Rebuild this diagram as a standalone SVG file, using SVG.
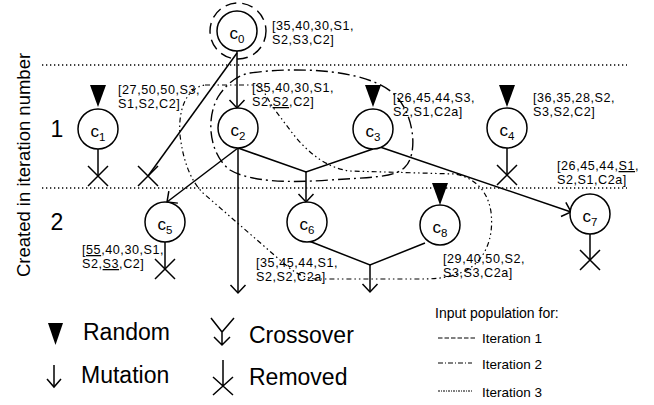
<svg xmlns="http://www.w3.org/2000/svg" xmlns:xlink="http://www.w3.org/1999/xlink" width="654" height="405" viewBox="0 0 654 405">
<style>
text{font-family:"Liberation Sans",Arial,sans-serif;fill:#000}
.lbl{font-size:12.6px;letter-spacing:0.55px}
.nl{font-size:17px;text-anchor:middle}
.sub{font-size:11.5px}
.big{font-size:23px}
.node{fill:#fff;stroke:#000;stroke-width:1.5}
.ln{fill:none;stroke:#000;stroke-width:1.5}
.arr{marker-end:url(#ah)}
.grid{fill:none;stroke:#000;stroke-width:1.3;stroke-dasharray:1.3,2.7}
.it1{fill:none;stroke:#000;stroke-width:1.4;stroke-dasharray:11,6}
.it2{fill:none;stroke:#000;stroke-width:1.4;stroke-dasharray:12,4,2,4}
.it3{fill:none;stroke:#000;stroke-width:1.2;stroke-dasharray:5,3,1.5,3,1.5,3}
.l1{fill:none;stroke:#000;stroke-width:1;stroke-dasharray:4.5,2}
.l2{fill:none;stroke:#000;stroke-width:1;stroke-dasharray:5,2,1,2}
.l3{fill:none;stroke:#000;stroke-width:1;stroke-dasharray:2,1,1,1}
</style>
<defs>
<marker id="ah" markerUnits="userSpaceOnUse" markerWidth="20" markerHeight="20" viewBox="-10 -10 20 20" refX="0" refY="0" orient="auto">
<path d="M-8,-7.5 L0,0 L-8,7.5" fill="none" stroke="#000" stroke-width="1.5"/>
</marker>
<path id="tri" d="M-8,0 L8,0 L0,22 Z" fill="#000"/>
<path id="x" d="M-10,-10 L10,10 M10,-10 L-10,10" fill="none" stroke="#000" stroke-width="1.5"/>
</defs>

<g id="grid">
<line class="grid" x1="42" y1="65" x2="627" y2="65"/>
<line class="grid" x1="42" y1="188" x2="627" y2="188"/>
<text transform="translate(30,165) rotate(-90)" style="font-size:18.5px" text-anchor="middle">Created in iteration number</text>
<text class="big" x="57" y="137" text-anchor="middle">1</text>
<text class="big" x="57" y="230" text-anchor="middle">2</text>
</g>

<g id="populations">
<circle class="it1" cx="238" cy="31" r="28"/>
<path class="it2" d="M250,73 C300,66 370,70 395,95 C415,115 418,155 405,167 C395,178 370,177 330,180 C290,183 250,182 230,170 C210,155 205,120 218,97 C226,84 238,75 250,73 Z"/>
<path class="it3" d="M205,85 L255,85 C263,87 266,96 272,106 L290,130 C305,150 325,168 350,171 L455,174 C476,178 488,192 491,212 C494,237 486,260 465,271 C450,278 435,279 420,279 L315,279 C302,277 296,273 288,267 L203,193 C190,180 183,160 180,135 C178,110 186,88 205,85 Z"/>
</g>

<g id="connectors">
<line class="ln arr" x1="237" y1="51" x2="237" y2="108"/>
<line class="ln" x1="237" y1="53" x2="148" y2="176"/>
<use xlink:href="#x" x="148" y="176"/>
<line class="ln" x1="98" y1="149" x2="98" y2="176"/>
<use xlink:href="#x" x="98" y="176"/>
<line class="ln" x1="507" y1="148" x2="507" y2="175"/>
<use xlink:href="#x" x="507" y="175"/>
<line class="ln arr" x1="238" y1="148" x2="167" y2="202"/>
<line class="ln arr" x1="238" y1="148" x2="238" y2="293"/>
<polyline class="ln" points="238,148 306,172 373,149"/>
<line class="ln arr" x1="306" y1="172" x2="306" y2="202"/>
<line class="ln arr" x1="380" y1="147" x2="571" y2="212"/>
<line class="ln" x1="165" y1="242" x2="165" y2="269"/>
<use xlink:href="#x" x="165" y="269"/>
<polyline class="ln" points="309,241 370,265 425,243"/>
<line class="ln arr" x1="370" y1="265" x2="370" y2="292"/>
<line class="ln" x1="590" y1="234" x2="590" y2="260"/>
<use xlink:href="#x" x="590" y="260"/>
<use xlink:href="#tri" x="98" y="85"/>
<use xlink:href="#tri" x="373" y="85"/>
<use xlink:href="#tri" x="507" y="85"/>
<use xlink:href="#tri" x="440" y="183"/>
</g>

<g id="c0">
<circle class="node" cx="237" cy="31" r="20"/>
<text class="nl" x="237" y="38.5">c<tspan class="sub" dy="4">0</tspan></text>
<text class="lbl" x="272" y="30">[35,40,30,S1,</text>
<text class="lbl" x="272" y="44">S2,S3,C2]</text>
</g>
<g id="c1">
<circle class="node" cx="98" cy="129" r="20"/>
<text class="nl" x="98" y="136.5">c<tspan class="sub" dy="4">1</tspan></text>
</g>
<g id="c1x">
<text class="lbl" x="118" y="94">[27,50,50,S3,</text>
<text class="lbl" x="118" y="108">S1,S2,C2]</text>
</g>
<g id="c2">
<circle class="node" cx="238" cy="128" r="20"/>
<text class="nl" x="238" y="135.5">c<tspan class="sub" dy="4">2</tspan></text>
<text class="lbl" x="252" y="92">[35,40,30,S1,</text>
<text class="lbl" x="252" y="106">S2,<tspan text-decoration="underline">S2</tspan>,C2]</text>
</g>
<g id="c3">
<circle class="node" cx="373" cy="129" r="20"/>
<text class="nl" x="373" y="136.5">c<tspan class="sub" dy="4">3</tspan></text>
<text class="lbl" x="393" y="102">[26,45,44,S3,</text>
<text class="lbl" x="393" y="116">S2,S1,C2a]</text>
</g>
<g id="c4">
<circle class="node" cx="507" cy="128" r="20"/>
<text class="nl" x="507" y="135.5">c<tspan class="sub" dy="4">4</tspan></text>
<text class="lbl" x="533" y="102">[36,35,28,S2,</text>
<text class="lbl" x="533" y="116">S3,S2,C2]</text>
</g>
<g id="c5">
<circle class="node" cx="165" cy="222" r="20"/>
<text class="nl" x="165" y="229.5">c<tspan class="sub" dy="4">5</tspan></text>
<text class="lbl" x="82" y="254">[<tspan text-decoration="underline">55</tspan>,40,30,S1,</text>
<text class="lbl" x="82" y="268">S2,<tspan text-decoration="underline">S3</tspan>,C2]</text>
</g>
<g id="c6">
<circle class="node" cx="307" cy="222" r="20"/>
<text class="nl" x="307" y="229.5">c<tspan class="sub" dy="4">6</tspan></text>
</g>
<g id="c2m">
<text class="lbl" x="256" y="267">[35,45,44,S1,</text>
<text class="lbl" x="256" y="281">S2,S2,C2a]</text>
</g>
<g id="c7">
<circle class="node" cx="590" cy="214" r="20"/>
<text class="nl" x="590" y="221.5">c<tspan class="sub" dy="4">7</tspan></text>
<text class="lbl" x="557" y="170">[26,45,44,<tspan text-decoration="underline">S1</tspan>,</text>
<text class="lbl" x="557" y="184">S2,S1,C2a]</text>
</g>
<g id="c8">
<circle class="node" cx="440" cy="225" r="20"/>
<text class="nl" x="440" y="232.5">c<tspan class="sub" dy="4">8</tspan></text>
<text class="lbl" x="443" y="263">[29,40,50,S2,</text>
<text class="lbl" x="443" y="277">S3,S3,C2a]</text>
</g>

<g id="legend">
<path d="M48,323 L63,323 L55.5,345 Z" fill="#000"/>
<text class="big" x="83" y="340">Random</text>
<line class="ln" x1="54" y1="365" x2="54" y2="387"/>
<path class="ln" d="M47,379 L54,387 L61,379"/>
<text class="big" x="81" y="383">Mutation</text>
<path class="ln" d="M211,318 L222,332 L234,318 M222,332 L222,345 M214,337 L222,345 L230,337"/>
<text class="big" x="249" y="343">Crossover</text>
<path class="ln" d="M223,360 L223,386 M213,377 L233,395 M233,377 L213,395"/>
<text class="big" x="249" y="385">Removed</text>
<text x="435" y="318" style="font-size:14px">Input population for:</text>
<line class="l1" x1="438" y1="338" x2="477" y2="338"/>
<text x="482" y="343" style="font-size:13.5px">Iteration 1</text>
<line class="l2" x1="438" y1="363" x2="472" y2="363"/>
<text x="482" y="369" style="font-size:13.5px">Iteration 2</text>
<line class="l3" x1="438" y1="391" x2="472" y2="391"/>
<text x="482" y="397" style="font-size:13.5px">Iteration 3</text>
</g>
</svg>
